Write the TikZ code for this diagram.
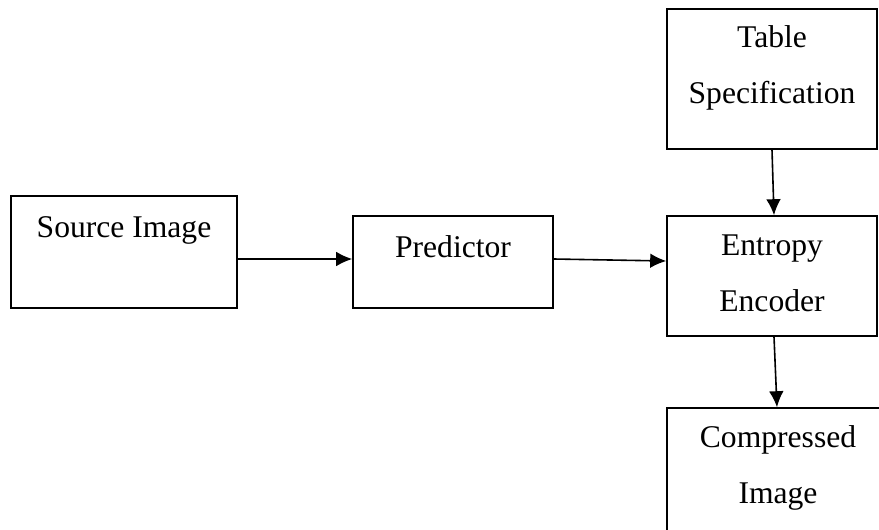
\documentclass[tikz,border=0pt]{standalone}
\usepackage{fontspec}
\setmainfont{Liberation Serif}
\usetikzlibrary{arrows.meta,positioning}
\tikzset{
  blockbox/.style={draw, line width=1.2pt, inner sep=0pt},
  blocktext/.style={font=\fontsize{23.7}{42}\selectfont, align=center, inner sep=0pt, anchor=base},
}
\begin{document}
\begin{tikzpicture}[x=0.75pt, y=-0.75pt, >={Latex[length=12pt,width=11pt]}]

% Page frame
\useasboundingbox (0,0) rectangle (879,529);
\clip (0,0) rectangle (879,529);

% Draw the boxes
\node[blockbox, minimum width=169.5pt, minimum height=84pt] (src) at (124,252) {};
\node[blockbox, minimum width=150pt, minimum height=69pt] (pred) at (453,262) {};
\node[blockbox, minimum width=157.5pt, minimum height=105pt] (table) at (772,79) {};
\node[blockbox, minimum width=157.5pt, minimum height=90pt] (ent) at (772,276) {};
\node[blockbox, minimum width=166.5pt, minimum height=112.5pt] (comp) at (778,483) {};

% Box texts (base is the last line)
\node[blocktext] (srctext) at (124,237) {Source Image};
\node[blocktext] (predtext) at (453,257) {Predictor};
\node[blocktext] (tabletext) at (772,103) {Table\\Specification};
\node[blocktext] (enttext) at (772,311) {Entropy\\Encoder};
\node[blocktext] (comptext) at (778,503) {Compressed\\Image};

% Draw the arrows
\draw[->, line width=1.2pt] ([yshift=-5.25pt]src.east) -- ([yshift=2.25pt]pred.west);
\draw[->, line width=1.2pt] ([yshift=2.25pt]pred.east) -- ([yshift=11.25pt]ent.west);
\draw[->, line width=1.2pt] (table.south) -- ([xshift=1.5pt]ent.north);
\draw[->, line width=1.2pt] ([xshift=1.5pt]ent.south) -- ([xshift=-0.75pt]comp.north);
\end{tikzpicture}
\end{document}
